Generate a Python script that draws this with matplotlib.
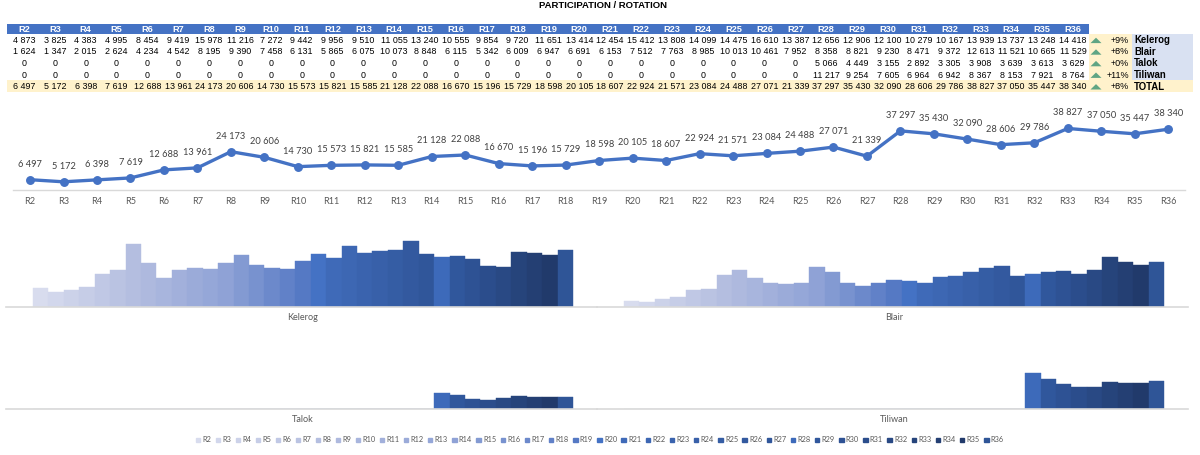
import numpy as np
import matplotlib
matplotlib.use("Agg")
import matplotlib.pyplot as plt
from matplotlib.patches import Rectangle, Patch, Polygon
from matplotlib.colors import to_rgb

# ---------------- data ----------------
rounds = ["R%d" % i for i in range(2, 37)]
kelerog = [4873, 3825, 4383, 4995, 8454, 9419, 15978, 11216, 7272, 9442, 9956, 9510,
           11055, 13240, 10555, 9854, 9720, 11651, 13414, 12454, 15412, 13808, 14099,
           14475, 16610, 13387, 12656, 12906, 12100, 10279, 10167, 13939, 13737, 13248, 14418]
blair = [1624, 1347, 2015, 2624, 4234, 4542, 8195, 9390, 7458, 6131, 5865, 6075,
         10073, 8848, 6115, 5342, 6009, 6947, 6691, 6153, 7512, 7763, 8985,
         10013, 10461, 7952, 8358, 8821, 9230, 8471, 9372, 12613, 11521, 10665, 11529]
talok = [0] * 26 + [5066, 4449, 3155, 2892, 3305, 3908, 3639, 3613, 3629]
tiliwan = [0] * 26 + [11217, 9254, 7605, 6964, 6942, 8367, 8153, 7921, 8764]
total = [6497, 5172, 6398, 7619, 12688, 13961, 24173, 20606, 14730, 15573, 15821, 15585,
         21128, 22088, 16670, 15196, 15729, 18598, 20105, 18607, 22924, 21571, 23084,
         24488, 27071, 21339, 37297, 35430, 32090, 28606, 29786, 38827, 37050, 35447, 38340]
series_names = ["Kelerog", "Blair", "Talok", "Tiliwan"]
title = "PARTICIPATION / ROTATION"

# ---------------- helpers ----------------
W, H = 1200, 455
fig = plt.figure(figsize=(12, 4.55), dpi=100)

def px_axes(l, t, r, b):
    return fig.add_axes([l / W, 1 - b / H, (r - l) / W, (b - t) / H])

def fmt(v):
    return "{:,}".format(int(v)).replace(",", " ")

# colour ramp for the 35 rounds (monochromatic blue)
anchors = {0: "#D8DCEE", 6: "#B4BEE0", 12: "#8FA2D6", 17: "#5579C4", 18: "#4472C4",
           19: "#3F6AB8", 25: "#30569A", 26: "#3D6ABA", 27: "#30579C", 33: "#213A6B",
           34: "#2F5597"}
keys = sorted(anchors)
colors = []
for i in range(len(rounds)):
    for a, b in zip(keys[:-1], keys[1:]):
        if a <= i <= b:
            ca, cb = np.array(to_rgb(anchors[a])), np.array(to_rgb(anchors[b]))
            f = (i - a) / (b - a) if b > a else 0
            colors.append(tuple(ca + (cb - ca) * f))
            break

TFONT = ["Liberation Sans", "DejaVu Sans"]
CFONT = ["Lato", "DejaVu Sans"]

# ---------------- table overlay ----------------
ov = fig.add_axes([0, 0, 1, 1])
ov.set_xlim(0, W)
ov.set_ylim(H, 0)
ov.axis("off")

ov.text(603, 6, title, ha="center", va="center", fontsize=6.8, fontweight="bold",
        family=TFONT, color="#000000")

col0, dcol = 24.0, 30.85
hdr_t, hdr_b = 24, 34
row_h = 11.6
ov.add_patch(Rectangle((7, hdr_t), 1089 - 7, hdr_b - hdr_t, color="#4472C4", lw=0))
rows = [kelerog, blair, talok, tiliwan, total]
labels_right = series_names + ["TOTAL"]
tot_t = hdr_b + 4 * row_h
ov.add_patch(Rectangle((7, tot_t), 1193 - 7, row_h, color="#FFF2CC", lw=0))
ov.add_patch(Rectangle((1089, hdr_b), 1132 - 1089, 4 * row_h, color="#FFF2CC", lw=0))
ov.add_patch(Rectangle((1132, hdr_b), 1193 - 1132, 4 * row_h, color="#D9E1F2", lw=0))

for j, r in enumerate(rounds):
    ov.text(col0 + j * dcol, (hdr_t + hdr_b) / 2 + 0.5, r, ha="center", va="center",
            fontsize=6.6, fontweight="bold", color="white", family=TFONT)
for k, vals in enumerate(rows):
    yc = hdr_b + row_h * (k + 0.5) + 0.5
    for j, v in enumerate(vals):
        ov.text(col0 + j * dcol, yc, fmt(v), ha="center", va="center",
                fontsize=6.4, color="#000000", family=TFONT)
    ch = (vals[-1] / vals[-2] - 1) * 100 if vals[-2] else 0
    ov.add_patch(Polygon([[1090.5, yc + 2.8], [1101.5, yc + 2.8], [1096, yc - 2.6]],
                         closed=True, color="#5FA584", lw=0))
    ov.text(1129, yc, "%+d%%" % round(ch), ha="right", va="center", fontsize=6.5,
            color="#000000", family=TFONT)
    ov.text(1134, yc, labels_right[k], ha="left", va="center", fontsize=6.9,
            fontweight="bold", color="#000000", family=TFONT)

# ---------------- line chart ----------------
axl = px_axes(13.3, 104.4, 1185, 190)
x = np.arange(len(rounds))
axl.plot(x, total, color="#4472C4", lw=2.4, marker="o", markersize=5.4, zorder=3)
for xi, v in zip(x, total):
    axl.annotate(fmt(v), (xi, v), xytext=(0, 8), textcoords="offset points",
                 ha="center", va="bottom", fontsize=6.7, color="#404040", family=CFONT)
axl.set_xlim(-0.5, len(rounds) - 0.5)
axl.set_ylim(0, 54000)
axl.set_xticks(x)
axl.set_xticklabels(rounds, fontsize=6.6, color="#595959", family=CFONT)
axl.set_yticks([])
axl.tick_params(axis="x", length=0, pad=5)
for s in ["top", "left", "right"]:
    axl.spines[s].set_visible(False)
axl.spines["bottom"].set_color("#D9D9D9")
axl.spines["bottom"].set_linewidth(1.0)
axl.patch.set_alpha(0)

# ---------------- small multiple bar panels ----------------
panels = [(kelerog, series_names[0], 6, 597, 236, 307),
          (blair, series_names[1], 597, 1188, 236, 307),
          (talok, series_names[2], 6, 597, 351, 409),
          (tiliwan, series_names[3], 597, 1188, 351, 409)]
for vals, name, l, r, t, b in panels:
    ax = px_axes(l, t, r, b)
    ax.bar(x, vals, width=1.0, color=colors, edgecolor=colors, linewidth=0.3)
    ax.set_xlim(-2.25, 36.05)
    ax.set_ylim(0, 18000)
    ax.set_yticks([])
    ax.set_xticks([17])
    ax.set_xticklabels([name], fontsize=6.6, color="#595959", family=CFONT)
    ax.tick_params(axis="x", length=0, pad=4)
    for s in ["top", "left", "right"]:
        ax.spines[s].set_visible(False)
    ax.spines["bottom"].set_color("#D9D9D9")
    ax.spines["bottom"].set_linewidth(1.2)
    ax.patch.set_alpha(0)

# ---------------- legend ----------------
handles = [Patch(facecolor=c, edgecolor=c) for c in colors]
fig.legend(handles, rounds, loc="center", bbox_to_anchor=(600 / W, 1 - 440 / H),
           ncol=len(rounds), frameon=False, handlelength=0.6,
           handleheight=0.6, handletextpad=0.3, columnspacing=0.6,
           prop={"family": CFONT, "size": 5.3}, labelcolor="#595959")

fig.savefig("out.png", dpi=100)
